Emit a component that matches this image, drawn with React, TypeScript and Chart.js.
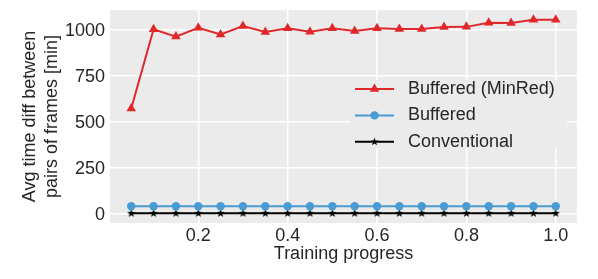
import React, { useEffect, useRef } from 'react';
import { Chart, registerables } from 'chart.js';

Chart.register(...registerables);

const progress = [0.05, 0.1, 0.15, 0.2, 0.25, 0.3, 0.35, 0.4, 0.45, 0.5, 0.55, 0.6, 0.65, 0.7, 0.75, 0.8, 0.85, 0.9, 0.95, 1.0];
const bufferedMinRed = [570, 1000, 960, 1008, 972, 1017, 985, 1005, 987, 1005, 990, 1006, 1002, 1002, 1012, 1013, 1035, 1034, 1052, 1052];
const buffered = [38, 38, 38, 38, 38, 38, 38, 38, 38, 38, 38, 38, 38, 38, 38, 38, 38, 38, 38, 38];
const conventional = [0, 0, 0, 0, 0, 0, 0, 0, 0, 0, 0, 0, 0, 0, 0, 0, 0, 0, 0, 0];
const seriesLabels = ['Buffered (MinRed)', 'Buffered', 'Conventional'];
const xTickValues = [0.2, 0.4, 0.6, 0.8, 1.0];
const yTickValues = [0, 250, 500, 750, 1000];
const xTitle = 'Training progress';
const yTitle = ['Avg time diff between', 'pairs of frames [min]'];

const RED = '#E0282B';
const BLUE = '#4A9BD3';
const BLACK = '#000000';
const TEXT = '#262626';
const PANEL = '#EBEBEB';
const FONT = "'Liberation Sans', Arial, sans-serif";

function makeStar(size: number, outer: number, inner: number, color: string) {
  const c = document.createElement('canvas');
  c.width = size;
  c.height = size;
  const g = c.getContext('2d')!;
  drawStarPath(g, size / 2, size / 2, outer, inner);
  g.fillStyle = color;
  g.fill();
  return c;
}

function drawStarPath(g: CanvasRenderingContext2D, cx: number, cy: number, outer: number, inner: number) {
  g.beginPath();
  for (let i = 0; i < 10; i++) {
    const r = i % 2 === 0 ? outer : inner;
    const a = -Math.PI / 2 + (i * Math.PI) / 5;
    const px = cx + r * Math.cos(a);
    const py = cy + r * Math.sin(a);
    if (i === 0) g.moveTo(px, py);
    else g.lineTo(px, py);
  }
  g.closePath();
}

function drawTriangle(g: CanvasRenderingContext2D, cx: number, cy: number, r: number) {
  g.beginPath();
  for (let i = 0; i < 3; i++) {
    const a = -Math.PI / 2 + (i * 2 * Math.PI) / 3;
    const px = cx + r * Math.cos(a);
    const py = cy + r * Math.sin(a);
    if (i === 0) g.moveTo(px, py);
    else g.lineTo(px, py);
  }
  g.closePath();
}

const bgPlugin = {
  id: 'bgPanel',
  beforeDraw(chart: any) {
    const { ctx, chartArea } = chart;
    ctx.save();
    ctx.fillStyle = '#ffffff';
    ctx.fillRect(0, 0, chart.width, chart.height);
    ctx.fillStyle = PANEL;
    ctx.fillRect(chartArea.left, chartArea.top, chartArea.right - chartArea.left, chartArea.bottom - chartArea.top);
    ctx.restore();
  },
};

const legendPlugin = {
  id: 'insideLegend',
  afterDatasetsDraw(chart: any) {
    const { ctx, chartArea } = chart;
    const boxLeft = chartArea.right - 227;
    const boxTop = chartArea.top + 70;
    ctx.save();
    ctx.fillStyle = PANEL;
    ctx.fillRect(boxLeft, boxTop, 217, 68);
    const colors = [RED, BLUE, BLACK];
    const lineX0 = boxLeft + 5;
    const lineX1 = boxLeft + 44;
    const mid = (lineX0 + lineX1) / 2;
    seriesLabels.forEach((label, i) => {
      const y = chartArea.top + 79 + i * 26.4;
      ctx.strokeStyle = colors[i];
      ctx.lineWidth = 2;
      ctx.beginPath();
      ctx.moveTo(lineX0, y);
      ctx.lineTo(lineX1, y);
      ctx.stroke();
      ctx.fillStyle = colors[i];
      if (i === 0) {
        drawTriangle(ctx, mid, y, 5.5);
        ctx.fill();
      } else if (i === 1) {
        ctx.beginPath();
        ctx.arc(mid, y, 4.2, 0, Math.PI * 2);
        ctx.fill();
      } else {
        drawStarPath(ctx, mid, y, 4.2, 1.7);
        ctx.fill();
      }
      ctx.fillStyle = TEXT;
      ctx.font = `18px ${FONT}`;
      ctx.textAlign = 'left';
      ctx.textBaseline = 'middle';
      ctx.fillText(label, boxLeft + 58, y);
    });
    ctx.restore();
  },
};

export default function App() {
  const ref = useRef<HTMLCanvasElement | null>(null);

  useEffect(() => {
    if (!ref.current) return;
    const star = makeStar(11, 4.4, 1.8, BLACK);
    const chart = new Chart(ref.current, {
      type: 'line',
      data: {
        datasets: [
          {
            label: seriesLabels[0],
            data: progress.map((x, i) => ({ x, y: bufferedMinRed[i] })),
            borderColor: RED,
            backgroundColor: RED,
            borderWidth: 2,
            pointStyle: 'triangle',
            pointRadius: 5.5,
            pointBorderWidth: 0,
            pointBackgroundColor: RED,
          },
          {
            label: seriesLabels[1],
            data: progress.map((x, i) => ({ x, y: buffered[i] })),
            borderColor: BLUE,
            backgroundColor: BLUE,
            borderWidth: 2,
            pointStyle: 'circle',
            pointRadius: 4.2,
            pointBorderWidth: 0,
            pointBackgroundColor: BLUE,
          },
          {
            label: seriesLabels[2],
            data: progress.map((x, i) => ({ x, y: conventional[i] })),
            borderColor: BLACK,
            backgroundColor: BLACK,
            borderWidth: 2,
            pointStyle: star as any,
            pointRadius: 4,
            pointBorderWidth: 0,
          },
        ],
      },
      options: {
        responsive: false,
        animation: false,
        events: [],
        layout: { padding: { top: 10, right: 21, left: 0, bottom: 0 } },
        plugins: {
          legend: { display: false },
          tooltip: { enabled: false },
        },
        scales: {
          x: {
            type: 'linear',
            min: 0.0025,
            max: 1.0475,
            border: { display: false },
            grid: { color: '#ffffff', lineWidth: 1.5, drawTicks: false },
            afterBuildTicks: (scale: any) => {
              scale.ticks = xTickValues.map((v) => ({ value: v }));
            },
            afterFit: (scale: any) => {
              scale.height = 56;
              scale.paddingLeft = 0;
              scale.paddingRight = 0;
            },
            ticks: {
              padding: 2.3,
              color: TEXT,
              font: { family: FONT, size: 18 },
              callback: (v: any) => Number(v).toFixed(1),
            },
            title: {
              display: true,
              text: xTitle,
              color: TEXT,
              font: { family: FONT, size: 18, lineHeight: 1.17 },
              padding: { top: 0, bottom: 14 },
            },
          },
          y: {
            type: 'linear',
            min: -52.6,
            max: 1104.6,
            border: { display: false },
            grid: { color: '#ffffff', lineWidth: 1.5, drawTicks: false },
            afterBuildTicks: (scale: any) => {
              scale.ticks = yTickValues.map((v) => ({ value: v }));
            },
            afterFit: (scale: any) => {
              scale.width = 110;
              scale.paddingTop = 0;
              scale.paddingBottom = 0;
            },
            ticks: {
              padding: 5,
              labelOffset: 1.5,
              color: TEXT,
              font: { family: FONT, size: 18 },
              callback: (v: any) => String(v),
            },
            title: {
              display: true,
              text: yTitle,
              color: TEXT,
              font: { family: FONT, size: 18, lineHeight: 1.17 },
              padding: { top: 20, bottom: 0 },
            },
          },
        },
      },
      plugins: [bgPlugin, legendPlugin],
    });
    return () => chart.destroy();
  }, []);

  return (
    <div style={{ position: 'fixed', left: 0, top: 0, width: 598, height: 279, background: '#fff' }}>
      <canvas ref={ref} width={598} height={279} />
    </div>
  );
}
